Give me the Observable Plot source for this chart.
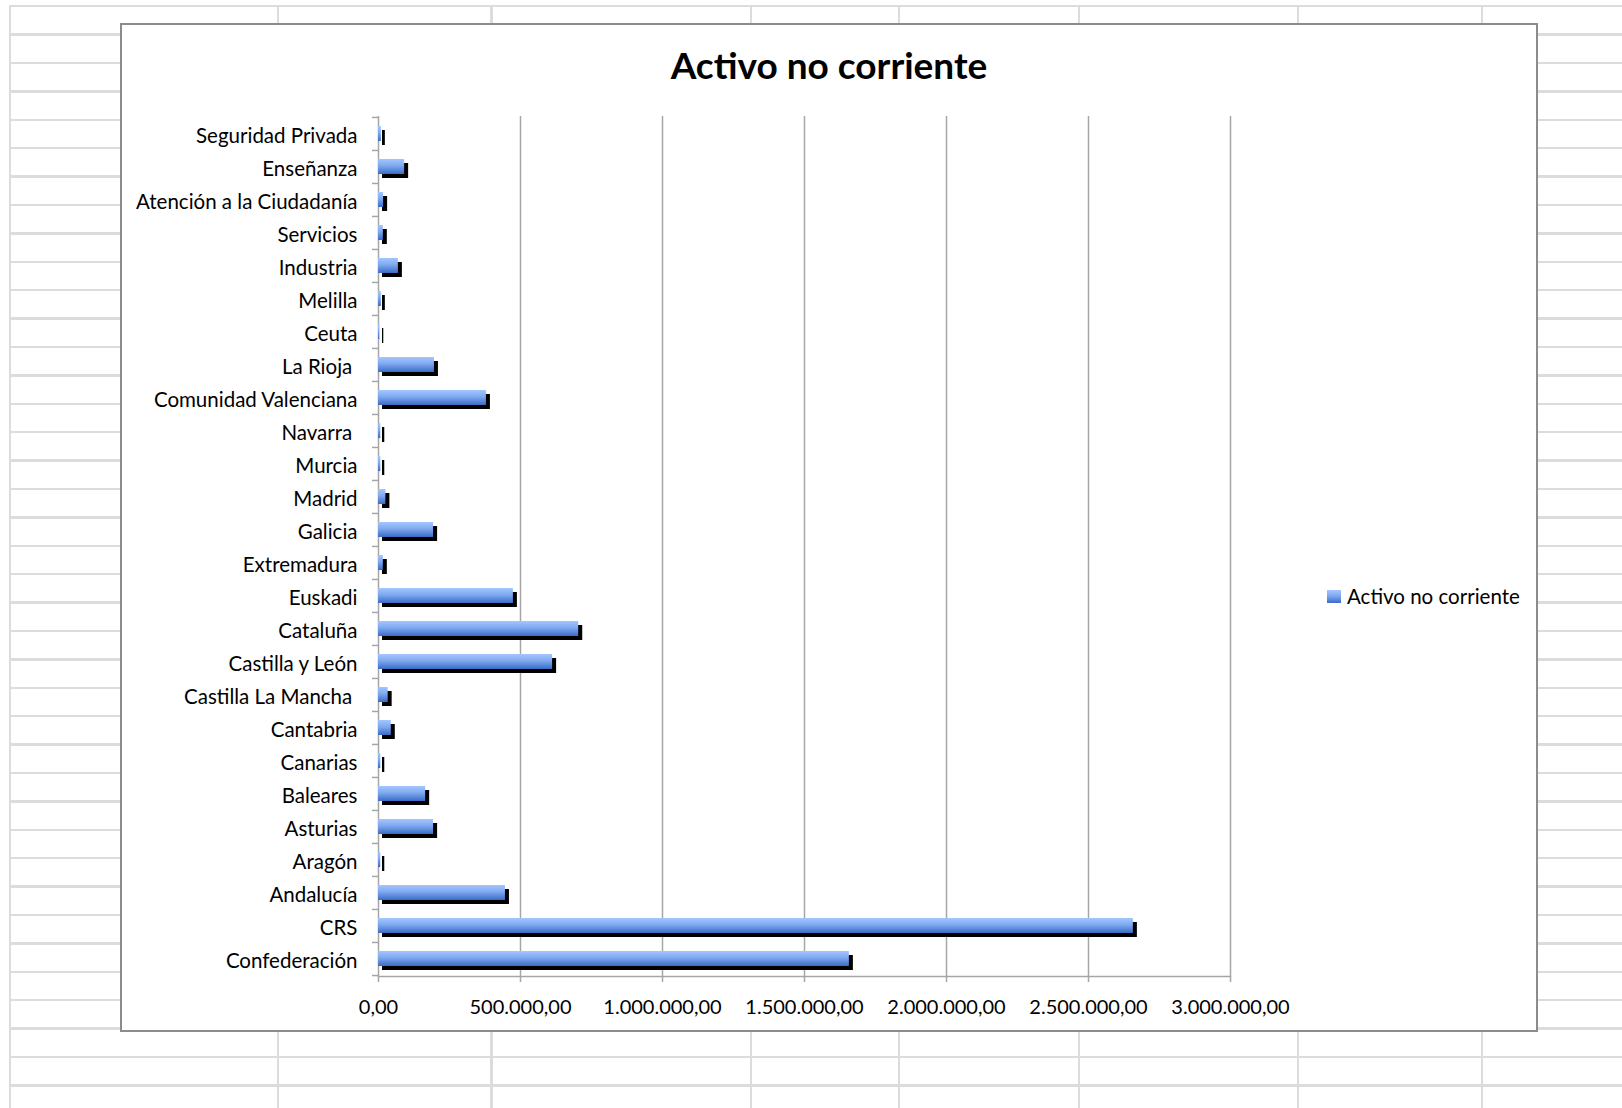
<!DOCTYPE html>
<html>
<head>
<meta charset="utf-8">
<script src="https://cdn.jsdelivr.net/npm/d3@7"></script>
<script src="https://cdn.jsdelivr.net/npm/@observablehq/plot@0.6"></script>
<style>
html, body { margin: 0; padding: 0; background: #fff; }
#page { position: relative; width: 1622px; height: 1108px; overflow: hidden; font-family: Lato, "Open Sans", sans-serif; color: #000; }
#sheet { position: absolute; left: 9px; top: 5px; right: 0; bottom: 0;
  background-image: repeating-linear-gradient(to bottom, #dcdcdc 0, #dcdcdc 2.4px, transparent 2.4px, transparent 28.4px); }
.col { position: absolute; top: 5px; bottom: 0; width: 2.4px; background: #dcdcdc; }
#frame { position: absolute; left: 120px; top: 23px; width: 1418px; height: 1009px; border: 2px solid #8c8c8c; box-sizing: border-box; background: #fff; }
#title { position: absolute; left: 122px; width: 1414px; top: 45.5px; line-height: 37px; text-align: center; font-weight: bold; font-size: 37px; }
#legend { position: absolute; left: 1327px; top: 584px; display: flex; align-items: center; font-size: 20.5px; line-height: 24px; }
#legend .sw { width: 14px; height: 13px; margin-right: 6px; background: linear-gradient(to bottom, #a4c6ff, #7fa9f0 45%, #3a6cc6); }
#chart { position: absolute; left: 122px; top: 90px; }
svg text { white-space: pre; }
</style>
</head>
<body>
<div id="page">
  <div id="sheet"></div>
  <div id="frame"></div>
  <div id="title">Activo no corriente</div>
  <div id="chart"></div>
  <div id="legend"><div class="sw"></div><span>Activo no corriente</span></div>
</div>
<script>
// ---- data ----
const categories = [
  "Seguridad Privada", "Enseñanza", "Atención a la Ciudadanía", "Servicios", "Industria",
  "Melilla", "Ceuta", "La Rioja ", "Comunidad Valenciana", "Navarra ", "Murcia", "Madrid",
  "Galicia", "Extremadura", "Euskadi", "Cataluña", "Castilla y León", "Castilla La Mancha ",
  "Cantabria", "Canarias", "Baleares", "Asturias", "Aragón", "Andalucía", "CRS", "Confederación"
];
const values = [
  10000, 92000, 18000, 17000, 70000,
  10000, 4500, 197000, 380000, 8000, 8000, 26000,
  194000, 17000, 475000, 705000, 613000, 34000,
  45000, 8000, 166000, 194000, 8000, 447000, 2658000, 1658000
];
const xTicks = [0, 500000, 1000000, 1500000, 2000000, 2500000, 3000000];
const seriesName = "Activo no corriente";

// ---- decoration: spreadsheet column lines ----
const colLines = [9, 276.8, 490.4, 749.6, 897.8, 1078, 1296.7, 1481];
const page = document.getElementById("page");
const sheet = document.getElementById("sheet");
for (const x of colLines) {
  const d = document.createElement("div");
  d.className = "col";
  d.style.left = x + "px";
  page.insertBefore(d, sheet.nextSibling);
}

// ---- chart ----
const data = categories.map((c, i) => ({ cat: c, value: values[i] }));
const locale = d3.formatLocale({ decimal: ",", thousands: ".", grouping: [3], currency: ["", "€"] });
const fmt = locale.format(",.2f");

const W = 1200, H = 930, mL = 256, mR = 92, mT = 26, mB = 44;
const step = (H - mT - mB) / categories.length;
const gridColor = "#a6a6a6";

const plot = Plot.plot({
  width: W, height: H,
  marginLeft: mL, marginRight: mR, marginTop: mT, marginBottom: mB,
  style: { fontFamily: "Lato, 'Open Sans', sans-serif", fontSize: "20px", color: "#000", background: "transparent", overflow: "visible" },
  x: { domain: [0, 3000000] },
  y: { domain: categories, paddingInner: 0.56, paddingOuter: 0.28 },
  marks: [
    Plot.ruleX(xTicks, { stroke: gridColor, strokeWidth: 1.5 }),
    Plot.axisX({ ticks: xTicks, tickSize: 6, tickFormat: () => "", stroke: gridColor, strokeWidth: 1.5, label: null }),
    Plot.axisX({ ticks: xTicks, tickSize: 0, tickPadding: 23, tickFormat: fmt, label: null, fill: "#000", fontSize: 20 }),
    Plot.axisY({ tickSize: 0, tickPadding: 21, label: null, fill: "#000", fontSize: 20.5, dy: 2 }),
    Plot.axisY({ tickSize: 6, tickFormat: () => "", dy: -step / 2, stroke: gridColor, strokeWidth: 1.5, label: null }),
    Plot.axisY({ ticks: [categories[categories.length - 1]], tickSize: 6, tickFormat: () => "", dy: step / 2, stroke: gridColor, strokeWidth: 1.5, label: null }),
    Plot.frame({ anchor: "bottom", stroke: gridColor, strokeWidth: 1.5 }),
    Plot.barX(data, { y: "cat", x: "value", fill: "#000", dx: 4, dy: 4 }),
    Plot.barX(data, { y: "cat", x: "value", fill: "url(#barGrad)", title: d => `${d.cat.trim()}: ${fmt(d.value)}` })
  ]
});

const svg = d3.select(plot);
const defs = svg.insert("defs", ":first-child");
const grad = defs.append("linearGradient").attr("id", "barGrad")
  .attr("x1", 0).attr("y1", 0).attr("x2", 0).attr("y2", 1);
grad.append("stop").attr("offset", "0%").attr("stop-color", "#a4c6ff");
grad.append("stop").attr("offset", "45%").attr("stop-color", "#7fa9f0");
grad.append("stop").attr("offset", "100%").attr("stop-color", "#3a6cc6");

document.getElementById("chart").appendChild(plot);
document.querySelector("#legend span").textContent = seriesName;
document.getElementById("title").textContent = seriesName;
</script>
</body>
</html>
